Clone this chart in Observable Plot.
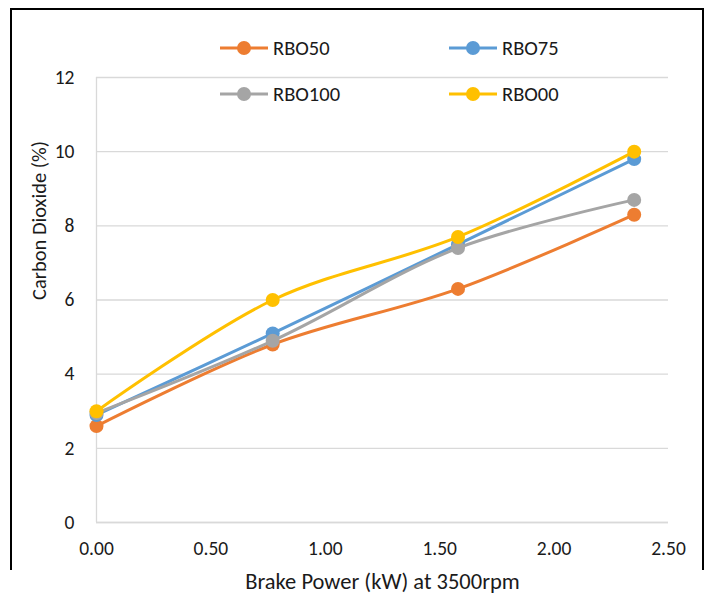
<!DOCTYPE html>
<html>
<head>
<meta charset="utf-8">
<script src="https://cdn.jsdelivr.net/npm/d3@7"></script>
<script src="https://cdn.jsdelivr.net/npm/@observablehq/plot@0.6"></script>
<style>
  body { margin: 0; background: #fff; }
  #wrap { position: relative; width: 710px; height: 616px; font-family: Carlito, Calibri, Lato, sans-serif; }
  #frame { position: absolute; left: 10px; top: 8px; width: 690px; height: 560px; border-left: 2px solid #000; border-top: 2px solid #000; border-right: 2px solid #000; pointer-events: none; }
  .leg { position: absolute; display: flex; align-items: center; font-size: 20.5px; color: #1a1a1a; }
  .leg svg { margin-right: 5px; }
</style>
</head>
<body>
<div id="wrap"><div id="frame"></div></div>
<script>
const xPower = [0, 0.77, 1.58, 2.35];
const seriesNames = ["RBO50", "RBO75", "RBO100", "RBO00"];
const seriesColors = ["#ED7D31", "#5B9BD5", "#A5A5A5", "#FFC000"];
const rbo50 = [2.6, 4.8, 6.3, 8.3];
const rbo75 = [2.9, 5.1, 7.5, 9.8];
const rbo100 = [2.95, 4.9, 7.4, 8.7];
const rbo00 = [3.0, 6.0, 7.7, 10.0];
const xTicks = [0, 0.5, 1.0, 1.5, 2.0, 2.5];
const yTicks = [0, 2, 4, 6, 8, 10, 12];
const xTitle = "Brake Power (kW) at 3500rpm";
const yTitle = "Carbon Dioxide (%)";
const legendPos = [[220, 48], [449, 48], [220, 94], [449, 94]];

const valuesBySeries = [rbo50, rbo75, rbo100, rbo00];
const data = [];
seriesNames.forEach((name, i) => {
  xPower.forEach((x, j) => data.push({series: name, x, y: valuesBySeries[i][j]}));
});

const marks = [
  Plot.gridY(yTicks, {stroke: "#d9d9d9", strokeOpacity: 1, strokeWidth: 1.3}),
  Plot.ruleX([0], {stroke: "#d9d9d9", strokeWidth: 1.3}),
  Plot.ruleY([0], {stroke: "#d9d9d9", strokeWidth: 1.3}),
  Plot.axisX({ticks: xTicks, tickFormat: d3.format(".2f"), tickSize: 0, tickPadding: 19,
    fontSize: 19.5, label: null}),
  Plot.axisY({ticks: yTicks, tickSize: 0, tickPadding: 22, fontSize: 19.5, label: null}),
  Plot.text([xTitle], {frameAnchor: "bottom", dy: 66, fontSize: 22.5, fill: "#1a1a1a"}),
  Plot.text([yTitle], {frameAnchor: "left", dx: -57, rotate: -90, fontSize: 20.5, fill: "#1a1a1a"})
];
seriesNames.forEach((name, i) => {
  const d = data.filter(r => r.series === name);
  marks.push(Plot.line(d, {x: "x", y: "y", stroke: seriesColors[i], strokeWidth: 3, curve: "catmull-rom"}));
  marks.push(Plot.dot(d, {x: "x", y: "y", fill: seriesColors[i], r: 7, stroke: "none"}));
});

const chart = Plot.plot({
  width: 710,
  height: 616,
  marginLeft: 96,
  marginRight: 42,
  marginTop: 77,
  marginBottom: 94,
  x: {domain: [0, 2.5]},
  y: {domain: [0, 12]},
  style: {fontFamily: "Carlito, Calibri, Lato, sans-serif", fontSize: "19.5px", color: "#1a1a1a", background: "transparent"},
  marks
});
chart.style.position = "absolute";
chart.style.left = "0px";
chart.style.top = "0px";
const wrap = document.getElementById("wrap");
wrap.appendChild(chart);

seriesNames.forEach((name, i) => {
  const div = document.createElement("div");
  div.className = "leg";
  div.style.left = legendPos[i][0] + "px";
  div.style.top = (legendPos[i][1] - 13) + "px";
  div.style.height = "26px";
  div.innerHTML = `<svg width="48" height="16"><line x1="0" y1="8" x2="48" y2="8" stroke="${seriesColors[i]}" stroke-width="3"/><circle cx="24" cy="8" r="7" fill="${seriesColors[i]}"/></svg><span>${name}</span>`;
  wrap.appendChild(div);
});
</script>
</body>
</html>
